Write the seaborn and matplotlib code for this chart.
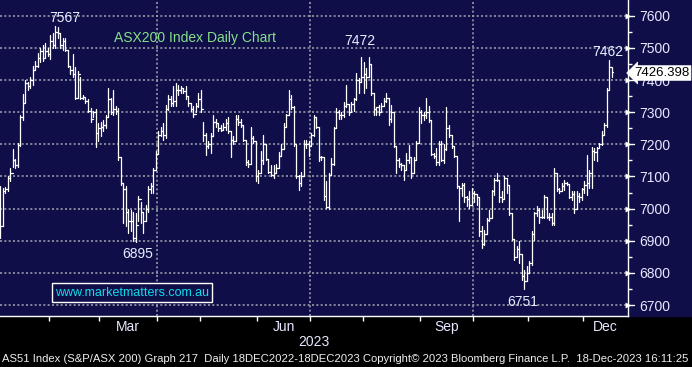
import numpy as np
import pandas as pd
import matplotlib
matplotlib.use("Agg")
import matplotlib.pyplot as plt
import matplotlib.transforms as mtransforms
from matplotlib.patches import Rectangle
import seaborn as sns

# ---------------- data ----------------
H = [7070, 7065, 7068, 7100, 7125, 7186, 7155, 7205, 7290, 7357,
     7400, 7395, 7410, 7445, 7460, 7485, 7500, 7510, 7515, 7500,
     7540, 7545, 7567, 7565, 7545, 7530, 7530, 7495, 7445, 7480,
     7440, 7428, 7410, 7355, 7345, 7340, 7312, 7305, 7310, 7265,
     7270, 7275, 7290, 7374, 7345, 7370, 7320, 7312, 7160, 7080,
     7069, 7000, 6997, 6990, 6985, 7040, 7020, 6990, 7010, 7069,
     7080, 7126, 7178, 7240, 7255, 7265, 7323, 7354, 7350, 7380,
     7390, 7385, 7380, 7375, 7380, 7350, 7330, 7320, 7330, 7360,
     7370, 7270, 7235, 7210, 7235, 7292, 7280, 7265, 7260, 7265,
     7280, 7285, 7240, 7225, 7290, 7292, 7280, 7260, 7215, 7150,
     7255, 7225, 7210, 7120, 7180, 7230, 7200, 7155, 7135, 7136,
     7140, 7175, 7200, 7266, 7295, 7370, 7355, 7320, 7200, 7105,
     7115, 7215, 7215, 7210, 7235, 7290, 7285, 7255, 7165, 7162,
     7085, 7110, 7157, 7255, 7312, 7307, 7300, 7333, 7385, 7325,
     7333, 7343, 7421, 7405, 7473, 7457, 7436, 7473, 7450, 7360,
     7317, 7323, 7330, 7343, 7359, 7345, 7323, 7302, 7195, 7157,
     7141, 7135, 7173, 7198, 7160, 7160, 7209, 7317, 7307, 7302,
     7343, 7320, 7275, 7173, 7190, 7209, 7209, 7200, 7317, 7260,
     7230, 7195, 7165, 7070, 7080, 7079, 7040, 7054, 7064, 7054,
     7045, 7035, 6945, 6934, 6971, 6997, 7059, 7095, 7110, 7090,
     7054, 7100, 7095, 7075, 6985, 6905, 6883, 6898, 6860, 6810,
     6821, 6836, 6929, 6991, 7007, 7002, 6995, 7043, 7035, 6986,
     6985, 7126, 7110, 7064, 7079, 7090, 7082, 7078, 7054, 7054,
     7054, 7048, 7064, 7085, 7167, 7121, 7193, 7188, 7193, 7204,
     7240, 7266, 7374, 7462, 7442]
L = [6909, 6945, 7050, 7055, 7085, 7131, 7127, 7130, 7195, 7276,
     7328, 7370, 7375, 7385, 7430, 7440, 7455, 7460, 7470, 7475,
     7465, 7500, 7500, 7530, 7500, 7495, 7490, 7440, 7420, 7410,
     7340, 7345, 7340, 7340, 7330, 7300, 7270, 7285, 7193, 7210,
     7225, 7240, 7250, 7285, 7295, 7292, 7295, 7152, 7074, 6955,
     6945, 6924, 6930, 6898, 6895, 6960, 6955, 6925, 6960, 6990,
     7050, 7048, 7120, 7170, 7225, 7215, 7220, 7307, 7320, 7320,
     7320, 7355, 7360, 7360, 7340, 7320, 7305, 7285, 7300, 7315,
     7300, 7210, 7167, 7190, 7173, 7225, 7255, 7240, 7240, 7245,
     7245, 7235, 7162, 7200, 7210, 7260, 7255, 7210, 7136, 7131,
     7140, 7205, 7085, 7080, 7110, 7140, 7150, 7110, 7100, 7095,
     7110, 7125, 7165, 7185, 7255, 7290, 7310, 7195, 7095, 7059,
     7070, 7100, 7190, 7165, 7195, 7225, 7250, 7147, 7150, 7028,
     7002, 7000, 7105, 7136, 7250, 7280, 7280, 7285, 7315, 7292,
     7300, 7305, 7338, 7359, 7395, 7359, 7374, 7411, 7354, 7292,
     7292, 7290, 7300, 7320, 7333, 7261, 7270, 7193, 7110, 7130,
     7121, 7090, 7121, 7141, 7095, 7110, 7150, 7204, 7266, 7276,
     7281, 7271, 7167, 7157, 7136, 7136, 7147, 7141, 7183, 7224,
     7190, 7162, 7064, 6960, 7038, 7022, 7007, 7002, 7010, 7022,
     7012, 6914, 6878, 6888, 6920, 6960, 6970, 7043, 7085, 7022,
     7022, 7030, 7048, 6981, 6903, 6841, 6850, 6831, 6779, 6751,
     6774, 6800, 6826, 6903, 6976, 6955, 6971, 6970, 6971, 6966,
     6950, 6950, 7054, 7048, 7054, 7059, 7074, 7033, 7028, 6986,
     7000, 7022, 7028, 7048, 7043, 7064, 7064, 7152, 7147, 7188,
     7198, 7230, 7255, 7370, 7411]
C = [6945, 7055, 7060, 7095, 7110, 7152, 7135, 7198, 7285, 7328,
     7390, 7382, 7400, 7430, 7445, 7470, 7490, 7470, 7490, 7480,
     7520, 7510, 7550, 7545, 7510, 7520, 7495, 7445, 7430, 7420,
     7345, 7420, 7345, 7348, 7335, 7305, 7280, 7300, 7235, 7250,
     7255, 7260, 7285, 7340, 7300, 7310, 7305, 7160, 7080, 7060,
     6990, 6960, 6960, 6910, 6950, 7030, 6990, 6960, 7000, 7060,
     7070, 7120, 7170, 7230, 7240, 7230, 7310, 7340, 7330, 7335,
     7370, 7370, 7375, 7365, 7350, 7330, 7310, 7295, 7320, 7340,
     7310, 7230, 7195, 7200, 7225, 7270, 7265, 7250, 7245, 7255,
     7265, 7240, 7215, 7210, 7280, 7270, 7260, 7215, 7145, 7140,
     7220, 7210, 7100, 7110, 7150, 7200, 7155, 7115, 7105, 7110,
     7125, 7165, 7185, 7255, 7290, 7340, 7315, 7200, 7100, 7080,
     7100, 7200, 7200, 7195, 7230, 7285, 7255, 7162, 7162, 7040,
     7005, 7105, 7140, 7250, 7300, 7290, 7290, 7320, 7325, 7300,
     7325, 7340, 7400, 7395, 7410, 7420, 7411, 7450, 7360, 7310,
     7315, 7300, 7320, 7335, 7345, 7280, 7302, 7195, 7150, 7140,
     7135, 7120, 7150, 7160, 7110, 7150, 7205, 7300, 7290, 7290,
     7300, 7275, 7170, 7165, 7145, 7200, 7150, 7185, 7250, 7230,
     7195, 7165, 7070, 7065, 7075, 7035, 7030, 7010, 7050, 7045,
     7035, 6930, 6890, 6920, 6965, 6970, 7055, 7090, 7090, 7035,
     7030, 7095, 7075, 6985, 6905, 6850, 6875, 6860, 6790, 6775,
     6800, 6830, 6920, 6985, 6995, 6975, 6975, 7035, 6975, 6975,
     6955, 7110, 7060, 7055, 7070, 7080, 7078, 7035, 7045, 7000,
     7040, 7035, 7060, 7075, 7080, 7110, 7180, 7175, 7190, 7200,
     7230, 7260, 7370, 7442, 7426.398]

first_day = "2023-01-03"
last_day = "2023-12-18"
holidays = ["2023-01-26", "2023-04-07", "2023-04-10", "2023-04-25", "2023-06-12"]
y_major = [6700, 6800, 6900, 7000, 7100, 7200, 7300, 7400, 7500, 7600]
y_minor = [6750, 6850, 6950, 7050, 7150, 7250, 7350, 7450, 7550]
month_names = ["Mar", "Jun", "Sep", "Dec"]
year_label = "2023"
peak_labels = [("7567", "high", 7567), ("7472", "high", 7473), ("7462", "high", 7462),
               ("6895", "low", 6895), ("6751", "low", 6751)]
last_price = "7426.398"
title = "ASX200 Index Daily Chart"
watermark = "www.marketmatters.com.au"
footer = ("AS51 Index (S&P/ASX 200) Graph 217  Daily 18DEC2022-18DEC2023 "
          "Copyright\u00a9 2023 Bloomberg Finance L.P.  18-Dec-2023 16:11:25")

# ---------------- trading dates ----------------
dates = pd.bdate_range(first_day, last_day)
dates = dates[~dates.isin(pd.to_datetime(holidays))]
n = len(C)
dates = dates[:n]
idx = np.arange(n)

# ---------------- style ----------------
NAVY = "#0f0e48"
sns.set_theme(style="dark", rc={"axes.facecolor": NAVY, "figure.facecolor": "black"})
plt.rcParams["font.family"] = ["Liberation Sans", "DejaVu Sans"]

W, Hh = 692, 367
fig = plt.figure(figsize=(W / 100, Hh / 100), dpi=100, facecolor="black")
top_h = 316 / Hh
fig.patches.append(Rectangle((0, 1 - top_h), 1, top_h, transform=fig.transFigure,
                             color=NAVY, zorder=-10))
ax = fig.add_axes([0, 1 - top_h, 628 / W, top_h])
ax.set_facecolor(NAVY)

# ---------------- OHLC-style bars via seaborn ----------------
rows = []
for i in idx:
    rows.append((i, L[i], 3 * i))
    rows.append((i, H[i], 3 * i))
    if i > 0:
        rows.append((i - 0.5, C[i - 1], 3 * i + 1))
        rows.append((i, C[i - 1], 3 * i + 1))
    rows.append((i, C[i], 3 * i + 2))
    rows.append((i + 0.5, C[i], 3 * i + 2))
df = pd.DataFrame(rows, columns=["x", "y", "seg"])
sns.lineplot(data=df, x="x", y="y", units="seg", estimator=None, sort=False,
             color="white", lw=0.9, ax=ax, legend=False, zorder=3)

ax.set_xlim(-0.1, 250.4)
ax.set_ylim(6666, 7649)
ax.set_xlabel("")
ax.set_ylabel("")

# ---------------- grid ----------------
grid_kw = dict(color="#9a9aa8", lw=1.2, linestyle=(0, (1.2, 1.4)), zorder=1)
for v in y_major:
    ax.axhline(v, **grid_kw)
month_start = [i for i in range(1, n) if dates[i].month != dates[i - 1].month]
for i in month_start:
    if dates[i].month in (4, 7, 10):
        ax.axvline(i - 0.5, **grid_kw)
ax.grid(False)

# ---------------- spines / ticks ----------------
for s in ["top", "left"]:
    ax.spines[s].set_visible(False)
for s in ["right", "bottom"]:
    ax.spines[s].set_visible(True)
    ax.spines[s].set_color("white")
    ax.spines[s].set_linewidth(1.0)

ax.yaxis.tick_right()
ax.set_yticks(y_major)
ax.set_yticklabels([str(v) for v in y_major])
ax.set_yticks(y_minor, minor=True)
ax.tick_params(axis="y", which="major", length=0, pad=8, labelsize=10,
               labelcolor="#e6e8ff", right=True, left=False)
ax.tick_params(axis="y", which="minor", length=3, width=1, color="white",
               direction="out", right=True, left=False)
tri_tr = mtransforms.blended_transform_factory(ax.transAxes, ax.transData)
ax.scatter([1.0] * len(y_major), y_major, marker=">", s=18, color="white",
           transform=tri_tr, clip_on=False, zorder=5, linewidths=0)
for v in y_major:
    ax.plot([1.0, 1.010], [v, v], color="white", lw=1.0, transform=tri_tr,
            clip_on=False, zorder=5)

# x axis: month boundaries as ticks, quarter-month names as labels
ax.set_xticks([i - 0.5 for i in month_start])
ax.set_xticklabels([""] * len(month_start))
label_pos = []
for name in month_names:
    m = pd.Timestamp(f"2023-{name}-01").month
    members = [i for i in idx if dates[i].month == m]
    start = members[0] - 0.5
    end = members[-1] + 0.5
    if members[-1] == n - 1:
        end = ax.get_xlim()[1]
    label_pos.append((start + end) / 2)
ax.set_xticks(label_pos, minor=True)
ax.set_xticklabels(month_names, minor=True)
ax.tick_params(axis="x", which="major", length=3.5, width=1, color="white",
               direction="out", bottom=True)
ax.tick_params(axis="x", which="minor", length=0, pad=3, labelsize=10,
               labelcolor="#e6e8ff", bottom=True)
ax.text(0.5, -26 / 316, year_label, transform=ax.transAxes, ha="center", va="center",
        fontsize=10, color="#e6e8ff")

# ---------------- annotations ----------------
offsets = {"7567": (9, 8), "7472": (-1, 16), "7462": (-2, 8), "6895": (2, -12), "6751": (-2, -13)}
for txt, kind, val in peak_labels:
    arr = np.array(H if kind == "high" else L, dtype=float)
    i = int(np.argmin(np.abs(arr - val)))
    ax.annotate(txt, xy=(i, val), xytext=offsets[txt], textcoords="offset pixels",
                ha="center", va="center", fontsize=10, color="#e8eeff", zorder=6)


def fx(px):
    return px / W


def fy(py):
    return 1 - py / Hh


fig.text(fx(195), fy(38), title, ha="center", va="center", fontsize=10, color="#86e08a")
fig.text(fx(132), fy(292.5), watermark, ha="center", va="center", fontsize=9,
         color="#10dcea",
         bbox=dict(boxstyle="square,pad=0.25", fc=NAVY, ec="white", lw=1.0))
fig.text(fx(662), fy(73), last_price, ha="center", va="center", fontsize=9.5,
         color="black", zorder=10,
         bbox=dict(boxstyle="larrow,pad=0.1", fc="white", ec="white", lw=0.5))
fig.text(fx(2), fy(359), footer, ha="left", va="center", fontsize=8.1, color="#eeeeee")

fig.savefig("out.png", dpi=100, facecolor="black")
